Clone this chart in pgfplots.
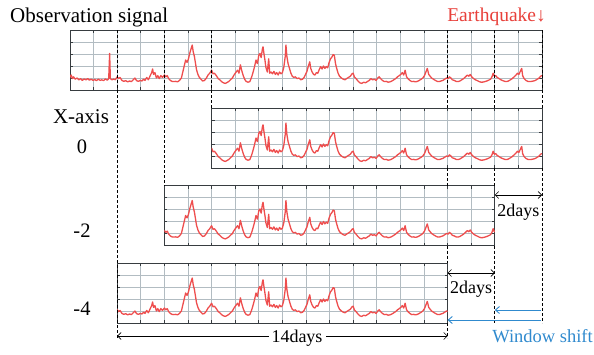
\documentclass[border=0pt]{standalone}
\usepackage{pgfplots}
\pgfplotsset{compat=1.18}
\usepackage{pgfplotstable}
\usepackage{fontspec}
\setmainfont{Liberation Serif}
\usetikzlibrary{arrows.meta}
\definecolor{sigred}{RGB}{238,78,78}
\definecolor{eqred}{RGB}{232,64,58}
\definecolor{wsblue}{RGB}{48,138,206}
\definecolor{gridc}{RGB}{178,188,194}
\definecolor{framec}{RGB}{55,60,64}

\pgfplotstableread{
day val
0.00 1.05
0.05 1.25
0.10 0.95
0.15 1.10
0.22 0.90
0.30 1.00
0.38 0.85
0.45 0.95
0.52 0.80
0.60 0.92
0.68 0.85
0.75 0.95
0.82 0.82
0.90 0.90
0.98 0.80
1.05 0.88
1.12 0.78
1.20 0.90
1.28 0.80
1.35 0.85
1.42 0.78
1.50 0.92
1.58 0.82
1.64 0.95
1.68 3.05
1.71 0.95
1.78 0.85
1.85 0.92
1.92 0.85
2.00 1.10
2.06 0.95
2.12 1.05
2.20 0.80
2.28 0.72
2.36 0.78
2.44 0.68
2.52 0.75
2.60 0.70
2.68 0.85
2.75 1.00
2.82 0.78
2.90 0.72
2.98 0.80
3.05 0.75
3.12 0.90
3.18 0.80
3.25 1.05
3.32 0.85
3.40 1.20
3.46 1.45
3.50 1.75
3.54 1.30
3.60 1.45
3.66 1.00
3.72 1.20
3.78 0.95
3.85 1.20
3.92 1.05
4.00 1.25
4.06 1.10
4.12 1.20
4.18 0.95
4.25 0.80
4.32 0.72
4.40 0.70
4.48 0.72
4.56 0.68
4.64 0.80
4.72 1.00
4.78 1.50
4.84 2.00
4.90 2.50
4.96 2.30
5.02 2.60
5.08 3.10
5.14 3.50
5.18 3.75
5.22 3.20
5.27 2.80
5.32 2.20
5.36 1.70
5.42 1.30
5.48 1.05
5.55 0.90
5.62 0.75
5.70 0.80
5.78 1.00
5.85 1.25
5.92 1.40
6.00 1.65
6.06 1.35
6.12 1.40
6.20 1.20
6.28 0.95
6.35 0.85
6.42 0.70
6.50 0.60
6.58 0.55
6.65 0.62
6.72 0.70
6.80 0.85
6.88 1.00
6.95 1.25
7.02 1.45
7.10 1.65
7.16 1.40
7.22 2.10
7.28 1.60
7.34 1.20
7.40 0.90
7.46 0.72
7.54 0.65
7.62 0.70
7.70 1.10
7.76 1.50
7.82 1.95
7.88 2.50
7.94 2.20
8.00 2.90
8.05 3.05
8.10 2.70
8.15 3.40
8.18 3.60
8.22 3.00
8.26 2.50
8.30 1.90
8.36 1.50
8.42 2.60
8.46 1.40
8.52 1.50
8.58 1.35
8.64 1.55
8.70 1.30
8.76 1.45
8.82 1.25
8.88 1.50
8.94 1.35
9.00 1.45
9.06 1.90
9.12 2.80
9.15 3.75
9.19 2.80
9.24 2.20
9.30 1.80
9.36 1.40
9.42 1.15
9.48 1.05
9.55 1.10
9.62 0.95
9.70 1.00
9.78 0.85
9.85 0.90
9.92 1.05
9.98 1.30
10.04 1.55
10.10 2.00
10.16 2.35
10.20 1.80
10.26 1.50
10.32 1.30
10.38 1.25
10.44 1.45
10.50 1.40
10.56 1.70
10.62 1.95
10.68 1.75
10.74 2.00
10.80 1.80
10.86 1.95
10.92 1.85
10.98 2.30
11.04 2.60
11.10 2.75
11.15 2.95
11.20 2.90
11.25 2.20
11.30 1.80
11.36 1.40
11.42 1.15
11.50 1.00
11.58 0.90
11.65 0.85
11.72 0.95
11.80 1.05
11.88 1.15
11.95 1.35
12.00 1.40
12.05 1.10
12.12 0.95
12.20 0.75
12.28 0.60
12.36 0.55
12.45 0.65
12.52 0.60
12.60 0.70
12.68 0.80
12.75 0.95
12.82 0.85
12.90 0.90
12.97 0.80
13.04 1.00
13.10 1.10
13.16 0.95
13.24 0.80
13.32 0.70
13.40 0.72
13.48 0.65
13.56 0.68
13.64 0.75
13.72 0.85
13.80 0.95
13.88 1.10
13.95 1.20
14.02 1.30
14.08 1.45
14.14 1.25
14.20 1.65
14.26 1.10
14.32 0.95
14.40 0.80
14.48 0.70
14.56 0.72
14.64 0.68
14.72 0.72
14.80 0.80
14.88 0.90
14.95 1.00
15.02 1.20
15.08 1.50
15.14 1.80
15.20 1.30
15.26 1.15
15.32 1.00
15.40 0.90
15.48 0.80
15.56 0.72
15.64 0.70
15.72 0.75
15.80 0.80
15.88 0.90
15.95 1.00
16.02 0.95
16.08 1.10
16.14 1.00
16.20 0.85
16.28 0.80
16.36 0.72
16.44 0.70
16.52 0.75
16.60 0.85
16.68 0.95
16.76 1.10
16.84 1.25
16.90 1.15
16.96 1.30
17.02 1.10
17.10 0.95
17.18 0.85
17.26 0.78
17.34 0.70
17.42 0.65
17.50 0.66
17.58 0.70
17.66 0.75
17.74 0.82
17.82 0.90
17.88 1.10
17.93 1.40
17.98 1.15
18.04 1.20
18.10 1.05
18.18 0.95
18.26 0.85
18.34 0.78
18.42 0.72
18.50 0.70
18.58 0.75
18.66 0.85
18.74 0.95
18.82 1.10
18.90 1.25
18.96 1.40
19.02 1.30
19.08 1.55
19.14 1.80
19.18 1.20
19.24 0.95
19.32 0.80
19.40 0.72
19.48 0.70
19.56 0.72
19.64 0.75
19.72 0.80
19.80 0.90
19.88 1.00
19.94 1.15
20.00 1.20
}\sigdata

\pgfplotsset{
  panel/.style={
    scale only axis, anchor=north west, height=60pt,
    ymin=0, ymax=5, xtick distance=1, ytick={1,2,3,4},
    xticklabels={}, yticklabels={},
    grid=major, major grid style={gridc, line width=0.7pt},
    tick align=inside, major tick length=3pt,
    tick style={framec, line width=0.7pt},
    axis line style={framec, line width=0.9pt},
  },
  sig/.style={sigred, line width=1.3pt, no marks, line join=round},
}

\begin{document}
\begin{tikzpicture}
\path[use as bounding box] (0pt,0pt) rectangle (594pt,-354pt);

% top panel: full 20 days
\begin{axis}[panel, at={(70pt,-30pt)}, width=472pt, xmin=0, xmax=20]
\addplot[sig] table[x=day,y=val] {\sigdata};
\end{axis}
% X-axis 0: days 6-20
\begin{axis}[panel, at={(211.6pt,-108pt)}, width=330.4pt, xmin=6, xmax=20]
\addplot[sig] table[x=day,y=val] {\sigdata};
\end{axis}
% X-axis -2: days 4-18
\begin{axis}[panel, at={(164.4pt,-185.5pt)}, width=330.4pt, xmin=4, xmax=18]
\addplot[sig] table[x=day,y=val] {\sigdata};
\end{axis}
% X-axis -4: days 2-16
\begin{axis}[panel, at={(117.2pt,-263pt)}, width=330.4pt, xmin=2, xmax=16]
\addplot[sig] table[x=day,y=val] {\sigdata};
\end{axis}

\begin{scope}[x=1pt, y=-1pt]
\tikzset{dsh/.style={black, line width=0.7pt, dash pattern=on 3pt off 2pt},
  arr/.style={line width=0.6pt, {Straight Barb[length=3.5pt,width=7pt]}-{Straight Barb[length=3.5pt,width=7pt]}},
  larr/.style={line width=0.9pt, wsblue, {Straight Barb[length=4pt,width=7pt]}-}}
% dashed guide lines
\draw[dsh] (117.2,30) -- (117.2,338);
\draw[dsh] (164.4,30) -- (164.4,185.5);
\draw[dsh] (211.6,30) -- (211.6,108);
\draw[dsh] (447.6,30) -- (447.6,108);
\draw[dsh] (447.6,168) -- (447.6,185.5);
\draw[dsh] (447.6,245.5) -- (447.6,263);
\draw[dsh] (447.6,323) -- (447.6,338);
\draw[dsh] (494.8,30) -- (494.8,108);
\draw[dsh] (494.8,168) -- (494.8,185.5);
\draw[dsh] (494.8,245.5) -- (494.8,323);
\draw[dsh] (542,30) -- (542,108);
\draw[dsh] (542,168) -- (542,323);

% 2days arrows
\draw[arr] (494.8,195) -- (542,195);
\node[font=\fontsize{18}{20}\selectfont] at (518.4,212) {2days};
\draw[arr] (447.6,273) -- (494.8,273);
\node[font=\fontsize{18}{20}\selectfont] at (471.2,289) {2days};
% 14days arrow
\draw[arr] (117.2,336) -- (447.6,336);
\node[font=\fontsize{18}{20}\selectfont, fill=white, inner sep=3pt] at (297,338) {14days};
% window shift arrows
\draw[larr] (494.8,310) -- (541,310);
\draw[larr] (447.6,320) -- (541,320);
\node[font=\fontsize{18.5}{20}\selectfont, text=wsblue, anchor=east, inner sep=1pt] at (594,336) {Window shift};

% titles / labels
\node[font=\fontsize{21}{24}\selectfont, anchor=base west, inner sep=0pt] at (10,22) {Observation signal};
\node[font=\fontsize{19.5}{22}\selectfont, text=eqred, anchor=base east, inner sep=0pt] at (546,21) {Earthquake↓};
\node[font=\fontsize{21}{24}\selectfont, anchor=base, inner sep=0pt] at (81,123) {X-axis};
\node[font=\fontsize{20.5}{24}\selectfont, anchor=base, inner sep=0pt] at (82,153) {0};
\node[font=\fontsize{20.5}{24}\selectfont, anchor=base, inner sep=0pt] at (82,237) {-2};
\node[font=\fontsize{20.5}{24}\selectfont, anchor=base, inner sep=0pt] at (82,315) {-4};
\end{scope}
\end{tikzpicture}
\end{document}
